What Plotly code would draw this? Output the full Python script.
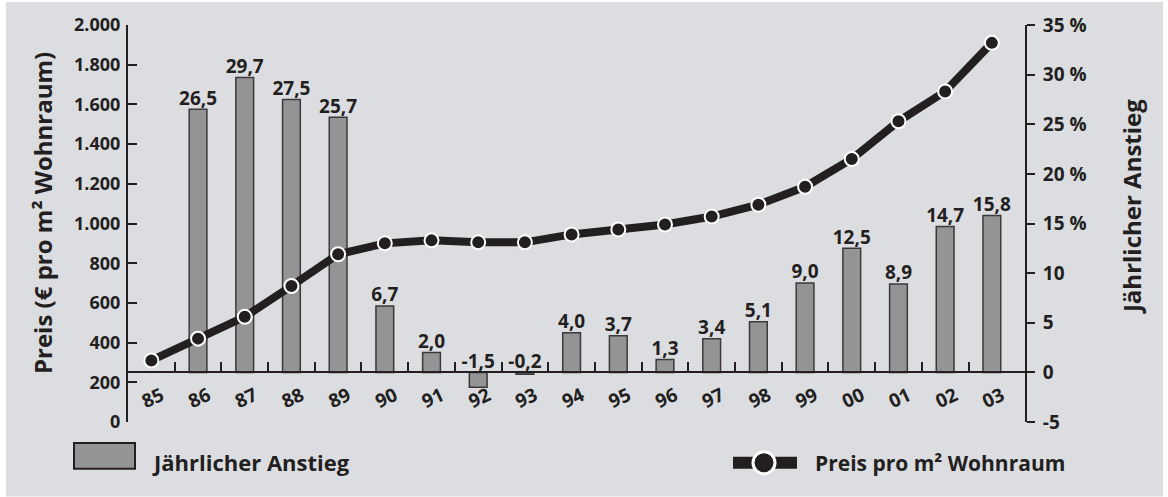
import plotly.graph_objects as go

# ---------------- data ----------------
years = [1985, 1986, 1987, 1988, 1989, 1990, 1991, 1992, 1993, 1994,
         1995, 1996, 1997, 1998, 1999, 2000, 2001, 2002, 2003]
year_labels = ["85", "86", "87", "88", "89", "90", "91", "92", "93", "94",
               "95", "96", "97", "98", "99", "00", "01", "02", "03"]
# annual increase in percent (no bar for 1985)
increase = [None, 26.5, 29.7, 27.5, 25.7, 6.7, 2.0, -1.5, -0.2, 4.0,
            3.7, 1.3, 3.4, 5.1, 9.0, 12.5, 8.9, 14.7, 15.8]
# price in EUR per m2 living space
price = [310, 420, 530, 685, 845, 900, 915, 905, 905, 945,
         970, 995, 1035, 1095, 1185, 1325, 1515, 1665, 1910]

price_ticks = [0, 200, 400, 600, 800, 1000, 1200, 1400, 1600, 1800, 2000]
price_ticktext = ["0", "200", "400", "600", "800", "1.000", "1.200",
                  "1.400", "1.600", "1.800", "2.000"]
pct_ticks = [-5, 0, 5, 10, 15, 20, 25, 30, 35]
pct_ticktext = ["-5", "0", "5", "10", "15 %", "20 %", "25 %", "30 %", "35 %"]

# ---------------- style ----------------
FONT = "Open Sans"
DARK = "#231f20"
BG = "#dcdde0"
BAR = "#949497"

W, H = 1168, 497
ML, MR, MT, MB = 128, 143, 23, 75
PW, PH = W - ML - MR, H - MT - MB


def px_x(px):
    return (px - ML) / PW


def px_y(py):
    return (H - MB - py) / PH


bar_labels = [None if v is None else f"{v:.1f}".replace(".", ",") for v in increase]
label_y = [None if v is None else max(v, 0) for v in increase]

fig = go.Figure()

fig.add_trace(go.Bar(
    x=years, y=increase, yaxis="y", width=0.38,
    marker=dict(color=BAR, line=dict(color="#3a3a3a", width=1.5)),
    name="Jährlicher Anstieg", showlegend=False,
))
fig.add_trace(go.Scatter(
    x=years, y=label_y, yaxis="y", mode="text", text=bar_labels,
    textposition="top center",
    textfont=dict(family=FONT, size=19, color=DARK, weight="bold"),
    showlegend=False, hoverinfo="skip",
))
fig.add_trace(go.Scatter(
    x=years, y=price, yaxis="y2", mode="lines+markers",
    line=dict(color=DARK, width=8),
    marker=dict(size=14, color=DARK, line=dict(color="white", width=2)),
    name="Preis pro m² Wohnraum", showlegend=False,
))

fig.update_layout(
    width=W, height=H,
    margin=dict(l=ML, r=MR, t=MT, b=MB, pad=0),
    paper_bgcolor="white", plot_bgcolor="rgba(0,0,0,0)",
    font=dict(family=FONT, color=DARK, size=18, weight="bold"),
    showlegend=False,
    xaxis=dict(
        range=[1984.5, 2003.71], anchor="free", position=0.125,
        showline=True, linecolor=DARK, linewidth=2,
        tickmode="array", tickvals=years, ticktext=year_labels,
        ticks="", tickangle=-25, ticklabelshift=10, ticklabelstandoff=4,
        tickfont=dict(family=FONT, size=19, color=DARK, weight="bold"),
        minor=dict(tickmode="array", tickvals=[y + 0.5 for y in years[:-1]],
                   ticks="inside", ticklen=9, tickwidth=2, tickcolor=DARK),
        showgrid=False, zeroline=False, fixedrange=True,
    ),
    yaxis=dict(
        range=[-5, 35], side="right", anchor="x",
        showline=True, linecolor=DARK, linewidth=2,
        tickmode="array", tickvals=pct_ticks, ticktext=pct_ticktext,
        ticks="outside", ticklen=8, tickwidth=2, tickcolor=DARK,
        tickfont=dict(family=FONT, size=19, color=DARK, weight="bold"),
        ticklabelstandoff=4,
        showgrid=False, zeroline=False,
    ),
    yaxis2=dict(
        range=[0, 2000], side="left", overlaying="y", anchor="x",
        showline=True, linecolor=DARK, linewidth=2,
        tickmode="array", tickvals=price_ticks, ticktext=price_ticktext,
        ticks="inside", ticklen=9, tickwidth=2, tickcolor=DARK,
        tickfont=dict(family=FONT, size=18, color=DARK, weight="bold"),
        ticklabelstandoff=2,
        showgrid=False, zeroline=False,
    ),
)

# background panel
fig.add_shape(type="rect", xref="paper", yref="paper", layer="below",
              x0=px_x(6), x1=px_x(1163), y0=px_y(497), y1=px_y(0),
              fillcolor=BG, line=dict(width=0))

# axis titles
fig.add_annotation(text="Preis (€ pro m² Wohnraum)", xref="paper", yref="paper",
                   x=px_x(42), y=px_y(212), textangle=-90, showarrow=False,
                   xanchor="center", yanchor="middle",
                   font=dict(family=FONT, size=24, color=DARK, weight="bold"))
fig.add_annotation(text="Jährlicher Anstieg", xref="paper", yref="paper",
                   x=px_x(1131), y=px_y(206), textangle=-90, showarrow=False,
                   xanchor="center", yanchor="middle",
                   font=dict(family=FONT, size=24, color=DARK, weight="bold"))

# manual legend
fig.add_shape(type="rect", xref="paper", yref="paper",
              x0=px_x(74), x1=px_x(135), y0=px_y(469), y1=px_y(443),
              fillcolor=BAR, line=dict(color=DARK, width=2))
fig.add_annotation(text="Jährlicher Anstieg", xref="paper", yref="paper",
                   x=px_x(150), y=px_y(462), showarrow=False,
                   xanchor="left", yanchor="middle",
                   font=dict(family=FONT, size=22, color=DARK, weight="bold"))
fig.add_shape(type="line", xref="paper", yref="paper",
              x0=px_x(733), x1=px_x(797), y0=px_y(463), y1=px_y(463),
              line=dict(color=DARK, width=12))
fig.add_shape(type="circle", xref="paper", yref="paper",
              x0=px_x(753), x1=px_x(775), y0=px_y(474), y1=px_y(452),
              fillcolor=DARK, line=dict(color="white", width=3))
fig.add_annotation(text="Preis pro m² Wohnraum", xref="paper", yref="paper",
                   x=px_x(813), y=px_y(463), showarrow=False,
                   xanchor="left", yanchor="middle",
                   font=dict(family=FONT, size=21, color=DARK, weight="bold"))

fig.write_html("out.html")
